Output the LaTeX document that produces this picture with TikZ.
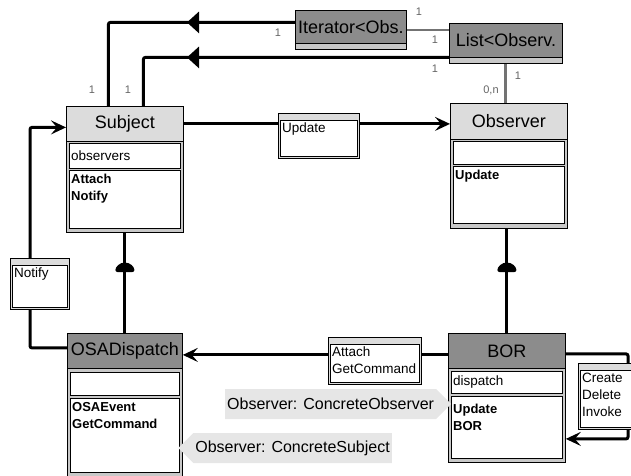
\documentclass[tikz,border=0pt]{standalone}
\usepackage{fontspec}
\setmainfont{Liberation Sans}
\usetikzlibrary{arrows.meta,shapes.symbols,decorations.markings}
\definecolor{headlight}{RGB}{220,220,220}
\definecolor{headdark}{RGB}{140,140,140}
\definecolor{stripgray}{RGB}{200,200,200}
\definecolor{notegray}{RGB}{230,230,230}
\definecolor{multgray}{RGB}{100,100,100}
\definecolor{linkgray}{RGB}{115,115,115}
\begin{document}
\begin{tikzpicture}[x=1pt, y=-1pt]
  \tikzstyle{frame} = [draw, fill=stripgray, line width=0.8pt, inner sep=0pt, anchor=north west]
  \tikzstyle{lighthead} = [frame, fill=headlight, font=\fontsize{18}{20}\selectfont]
  \tikzstyle{darkhead} = [frame, fill=headdark, font=\fontsize{18}{20}\selectfont]
  \tikzstyle{comp} = [draw, fill=white, line width=0.7pt, inner sep=0pt, anchor=north west]
  \tikzstyle{member} = [anchor=west, inner sep=2pt, font=\fontsize{13.5}{16}\selectfont]
  \tikzstyle{op} = [anchor=north west, inner xsep=2pt, inner ysep=4pt, align=left, font=\bfseries\fontsize{13}{17}\selectfont]
  \tikzstyle{notebox} = [draw, fill=headlight, line width=0.7pt, inner sep=0pt, anchor=north west]
  \tikzstyle{notetext} = [anchor=north west, inner xsep=2pt, inner ysep=3pt, align=left, font=\fontsize{13.5}{17}\selectfont]
  \tikzstyle{mult} = [text=multgray, font=\fontsize{11}{12}\selectfont, inner sep=1pt]
  \tikzstyle{role} = [signal, fill=notegray, minimum height=30pt, inner xsep=2pt, font=\fontsize{16}{18}\selectfont]
  \tikzstyle{link} = [line width=3pt, rounded corners=2pt]
  \tikzstyle{flow} = [link, -{Stealth[length=15pt, width=14pt, inset=6pt]}]
  \tikzstyle{inherit} = [postaction={decorate}, decoration={markings, mark=at position -61pt with {\fill (0pt,9.5pt) arc[start angle=90, end angle=270, radius=9.5pt] -- cycle;}}]
  \tikzset{midtip/.style={postaction={decorate}, decoration={markings, mark=at position #1 with {\arrow{Triangle[length=12pt, width=21pt]}}}}}
  \useasboundingbox (0,0) rectangle (631,475);

  % classes
  \node[frame, minimum width=111pt, minimum height=39pt] (iter) at (295,10) {};
  \node[darkhead, minimum width=111pt, minimum height=33pt] (iterhead) at (295,10) {Iterator<Obs.};
  \node[frame, minimum width=113pt, minimum height=40pt] (list) at (449,23) {};
  \node[darkhead, minimum width=113pt, minimum height=34pt] (listhead) at (449,23) {List<Observ.};

  \node[frame, minimum width=117pt, minimum height=126pt] (subject) at (66,106) {};
  \node[lighthead, minimum width=117pt, minimum height=35pt] (subjhead) at (66,106) {Subject};
  \node[comp, minimum width=111pt, minimum height=25pt] (subjattr) at (69,143) {};
  \node[comp, minimum width=111pt, minimum height=58pt] (subjops) at (69,170) {};
  \node[member] (subjattrtext) at (subjattr.west) {observers};
  \node[op] (subjopstext) at (subjops.north west) {Attach\\Notify};

  \node[frame, minimum width=117pt, minimum height=125pt] (obs) at (450,103) {};
  \node[lighthead, minimum width=117pt, minimum height=36pt] (obshead) at (450,103) {Observer};
  \node[comp, minimum width=111pt, minimum height=23pt] (obsattr) at (453,141) {};
  \node[comp, minimum width=111pt, minimum height=57pt] (obsops) at (453,166) {};
  \node[op] (obsopstext) at (obsops.north west) {Update};

  \node[frame, minimum width=115pt, minimum height=144pt] (osa) at (67,333) {};
  \node[darkhead, minimum width=115pt, minimum height=35pt] (osahead) at (67,333) {OSADispatch};
  \node[comp, minimum width=109pt, minimum height=23pt] (osaattr) at (70,372) {};
  \node[comp, minimum width=109pt, minimum height=74pt] (osaops) at (70,398) {};
  \node[op] (osaopstext) at (osaops.north west) {OSAEvent\\GetCommand};

  \node[frame, minimum width=117pt, minimum height=129pt] (bor) at (448,333) {};
  \node[darkhead, minimum width=117pt, minimum height=35pt] (borhead) at (448,333) {BOR};
  \node[comp, minimum width=111pt, minimum height=22pt] (borattr) at (451,371) {};
  \node[comp, minimum width=111pt, minimum height=62pt] (borops) at (451,396) {};
  \node[member] (borattrtext) at (borattr.west) {dispatch};
  \node[op, yshift=-4pt] (boropstext) at (borops.north west) {Update\\BOR};

  % connectors
  \coordinate (notifybend) at (30,240);
  \coordinate (loopbend) at (628,400);
  \draw[link, midtip=108pt] ([yshift=7.5pt]iter.west) -| ([xshift=-16.5pt]subject.north);
  \draw[link, midtip=262pt] ([yshift=-14pt]list.west) -| ([xshift=18.5pt]subject.north);
  \draw[linkgray, line width=2pt] (iter.east) -- (iter.east -| list.west);
  \draw[linkgray, line width=3pt] (list.south) -- (list.south |- obs.north);
  \draw[flow] (subjhead.east) -- (subjhead.east -| obshead.west);
  \draw[link, inherit] (subject.south) -- (osahead.north);
  \draw[link, inherit] (obs.south -| bor.north) -- (bor.north);
  \draw[flow] ([yshift=-4pt]borhead.west) -- ([yshift=-4pt]borhead.west -| osahead.east);
  \draw[flow] ([yshift=3pt]osahead.west) -| (notifybend) |- ([yshift=-3.5pt]subjhead.west);
  \draw[flow] ([yshift=-3pt]borhead.east) -| (loopbend) |- ([yshift=-41pt]bor.east);

  % multiplicities
  \node[mult] (m1) at (278,33) {1};
  \node[mult] (m2) at (419,12) {1};
  \node[mult] (m3) at (435,40) {1};
  \node[mult] (m4) at (435,69) {1};
  \node[mult] (m5) at (92,90) {1};
  \node[mult] (m6) at (128,90) {1};
  \node[mult] (m7) at (518,76) {1};
  \node[mult] (m8) at (491,90) {0,n};

  % message labels
  \node[notebox, minimum width=81pt, minimum height=45pt] (updbox) at (278,113) {};
  \node[comp, minimum width=77pt, minimum height=36pt] (updin) at (280,120) {};
  \node[notetext] (updtext) at (updin.north west) {Update};
  \node[notebox, minimum width=59pt, minimum height=51pt] (notbox) at (10,258) {};
  \node[comp, minimum width=55pt, minimum height=42pt] (notin) at (12,265) {};
  \node[notetext] (nottext) at (notin.north west) {Notify};
  \node[notebox, minimum width=93pt, minimum height=47pt] (attbox) at (328,337) {};
  \node[comp, minimum width=89pt, minimum height=38pt] (attin) at (330,344) {};
  \node[notetext] (atttext) at (attin.north west) {Attach\\GetCommand};
  \node[notebox, minimum width=58pt, minimum height=66pt] (crebox) at (578,363) {};
  \node[comp, minimum width=54pt, minimum height=57pt] (crein) at (580,370) {};
  \node[notetext] (cretext) at (crein.north west) {Create\\Delete\\Invoke};

  % roles
  \node[role, signal to=east, anchor=west] (concobs) at (225,404) {Observer: ConcreteObserver};
  \node[role, signal to=west, anchor=east] (concsubj) at (392,448) {Observer: ConcreteSubject};
\end{tikzpicture}
\end{document}
